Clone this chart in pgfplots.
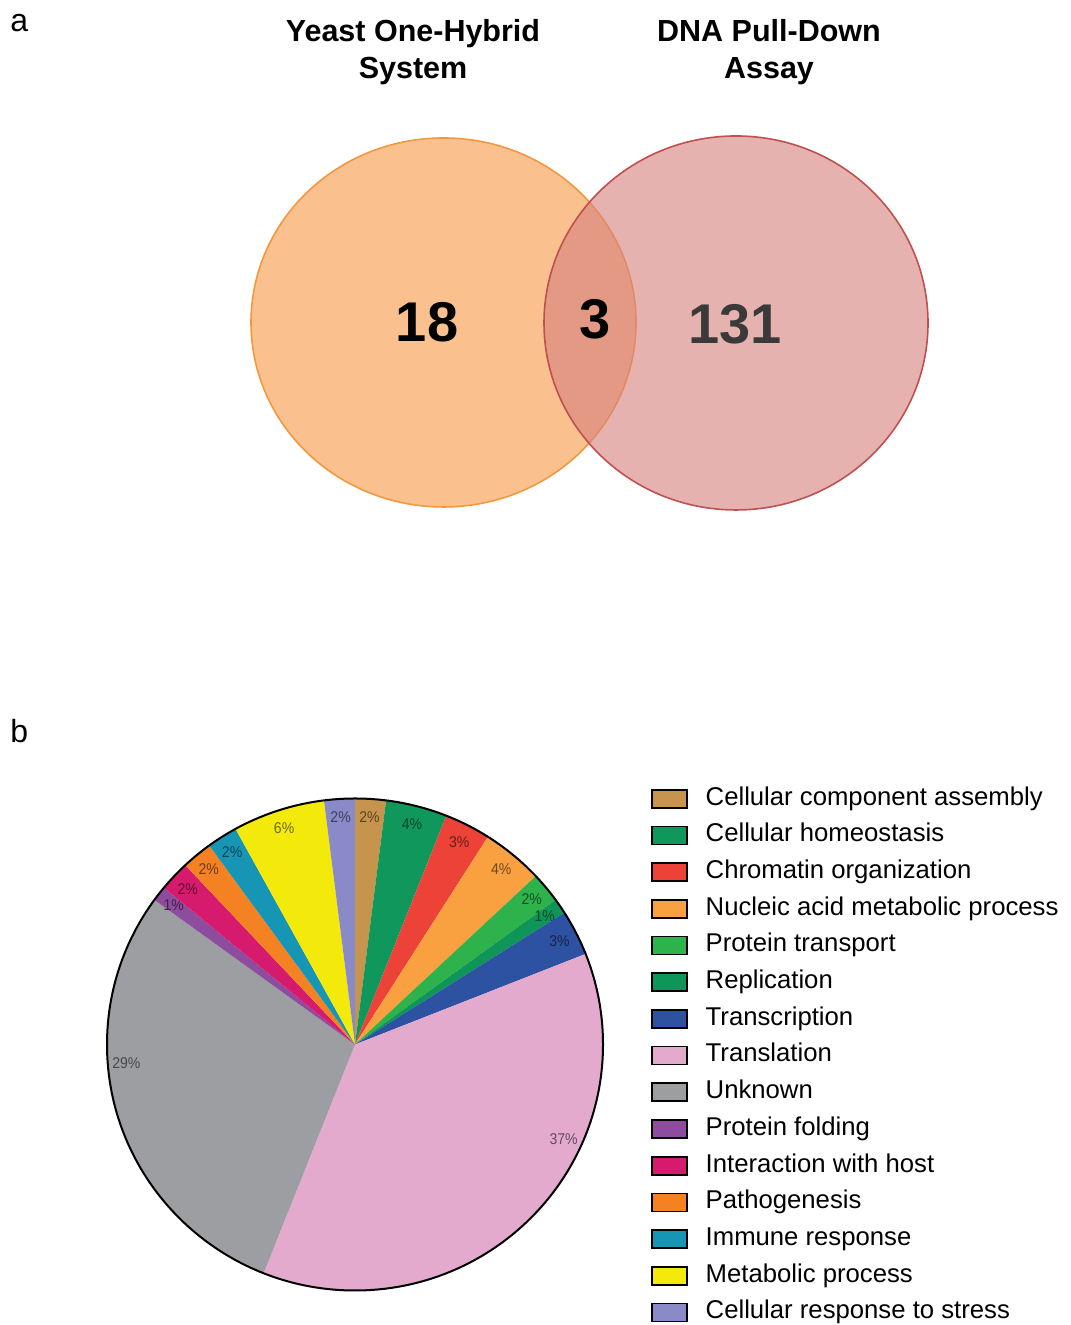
\documentclass[border=0pt]{standalone}
\usepackage{fontspec}
\setmainfont{Liberation Sans}
\usepackage{pgfplots}
\usepackage{pgfplotstable}
\pgfplotsset{compat=1.18}

% slice colours, in the order of the pie (clockwise from the top)
\definecolor{c0}{RGB}{198,148,76}
\definecolor{c1}{RGB}{16,152,92}
\definecolor{c2}{RGB}{236,66,56}
\definecolor{c3}{RGB}{249,160,64}
\definecolor{c4}{RGB}{46,178,76}
\definecolor{c5}{RGB}{14,150,88}
\definecolor{c6}{RGB}{46,82,162}
\definecolor{c7}{RGB}{227,170,205}
\definecolor{c8}{RGB}{156,158,161}
\definecolor{c9}{RGB}{142,76,158}
\definecolor{c10}{RGB}{214,26,110}
\definecolor{c11}{RGB}{245,130,34}
\definecolor{c12}{RGB}{22,150,180}
\definecolor{c13}{RGB}{243,234,12}
\definecolor{c14}{RGB}{138,138,200}
% Venn colours
\definecolor{vennLfill}{RGB}{250,193,143}
\definecolor{vennLdraw}{RGB}{243,152,64}
\definecolor{vennRfill}{RGB}{215,130,128}
\definecolor{vennRdraw}{RGB}{192,80,77}

\newfontfamily\lblfont[FakeStretch=0.9]{Liberation Sans}
\tikzset{lbl/.style={font=\lblfont\fontsize{7.8}{9}\selectfont, inner sep=0pt}}

% GO categories: share in percent, and an angular offset for the label
\pgfplotstableread[col sep=comma]{
pct,shift
2,0
4,0
3,0
4,0
2,0
1,0
3,0
37,20.4
29,-11.4
1,0
2,0
2,0
2,0
6,0
2,0
}\piedata
\pgfplotstablecreatecol[create col/expr accum={\pgfmathaccuma+\thisrow{pct}}{0}]{cum}\piedata

\begin{document}
\begin{tikzpicture}
\useasboundingbox (0,0) rectangle (535pt,662.5pt);

% ---------- a: Venn diagram ----------
\begin{axis}[
  at={(0,0)}, anchor=south west,
  width=535pt, height=662.5pt, scale only axis,
  xmin=0, xmax=1070, ymin=0, ymax=1325,
  hide axis, clip=false,
]
\draw[vennLdraw, line width=0.8pt, fill=vennLfill]
  (axis cs:443.5,1002.5) ellipse [x radius=192.5, y radius=184.5];
\draw[vennRdraw, line width=0.8pt, fill=vennRfill, fill opacity=0.62]
  (axis cs:736,1002) ellipse [x radius=192, y radius=187];

\node[font=\bfseries\fontsize{15.25}{18.5}\selectfont, align=center]
  at (axis cs:413,1273) {Yeast One-Hybrid\\System};
\node[font=\bfseries\fontsize{15.25}{18.5}\selectfont, align=center]
  at (axis cs:769,1273) {DNA Pull-Down\\Assay};

\node[font=\bfseries\fontsize{28}{30}\selectfont] at (axis cs:427,1003) {18};
\node[font=\bfseries\fontsize{28}{30}\selectfont] at (axis cs:595,1006) {3};
\node[font=\bfseries\fontsize{28}{30}\selectfont, text={rgb,255:red,58;green,58;blue,58}]
  at (axis cs:735,1001) {131};

\node[font=\fontsize{16}{18}\selectfont, anchor=base west, inner sep=0pt]
  at (axis cs:10,1293) {a};
\node[font=\fontsize{16}{18}\selectfont, anchor=base west, inner sep=0pt]
  at (axis cs:10,582) {b};
\end{axis}

% ---------- b: pie chart ----------
\begin{axis}[
  at={(177.5pt,140.25pt)}, anchor=center,
  width=248pt, height=246pt, scale only axis,
  xmin=-1, xmax=1, ymin=-1, ymax=1,
  hide axis, clip=false,
  legend entries={Cellular component assembly, Cellular homeostasis,
    Chromatin organization, Nucleic acid metabolic process,
    Protein transport, Replication, Transcription, Translation,
    Unknown, Protein folding, Interaction with host, Pathogenesis,
    Immune response, Metabolic process, Cellular response to stress},
  legend image code/.code={%
    \draw[#1, draw=black, line width=0.85pt] (0pt,-4.5pt) rectangle (17.5pt,4.5pt);},
  legend cell align=left,
  legend style={
    at={(axis cs:1.1935,1.0516)}, anchor=north west,
    draw=none, fill=none, inner sep=0pt, outer sep=0pt,
    row sep=5.5pt, column sep=9pt,
    font=\fontsize{12.85}{14}\selectfont,
    nodes={inner sep=0pt, text height=9.6pt, text depth=3.25pt},
  },
]
\pgfplotsinvokeforeach{0,...,14}{%
  \pgfplotstablegetelem{#1}{pct}\of\piedata \let\pct\pgfplotsretval
  \pgfplotstablegetelem{#1}{cum}\of\piedata \let\cum\pgfplotsretval
  \pgfplotstablegetelem{#1}{shift}\of\piedata \let\sh\pgfplotsretval
  \pgfmathsetmacro\aend{90-3.6*\cum}
  \pgfmathsetmacro\abeg{\aend+3.6*\pct}
  \pgfmathsetmacro\amid{(\aend+\abeg)/2+\sh}
  \pgfmathsetmacro\lx{0.925*cos(\amid)}
  \pgfmathsetmacro\ly{0.925*sin(\amid)}
  \edef\slice{%
    \noexpand\addplot[fill=c#1, draw=none, domain=\aend:\abeg, samples=60]
      ({cos(x)},{sin(x)}) -- (axis cs:0,0) -- cycle;
    \noexpand\node[lbl, text=c#1!45!black] at (axis cs:\lx,\ly) {\pct\noexpand\%};}%
  \slice
}
\draw[black, line width=1pt] (axis cs:0,0) ellipse [x radius=1, y radius=1];
\end{axis}
\end{tikzpicture}
\end{document}
